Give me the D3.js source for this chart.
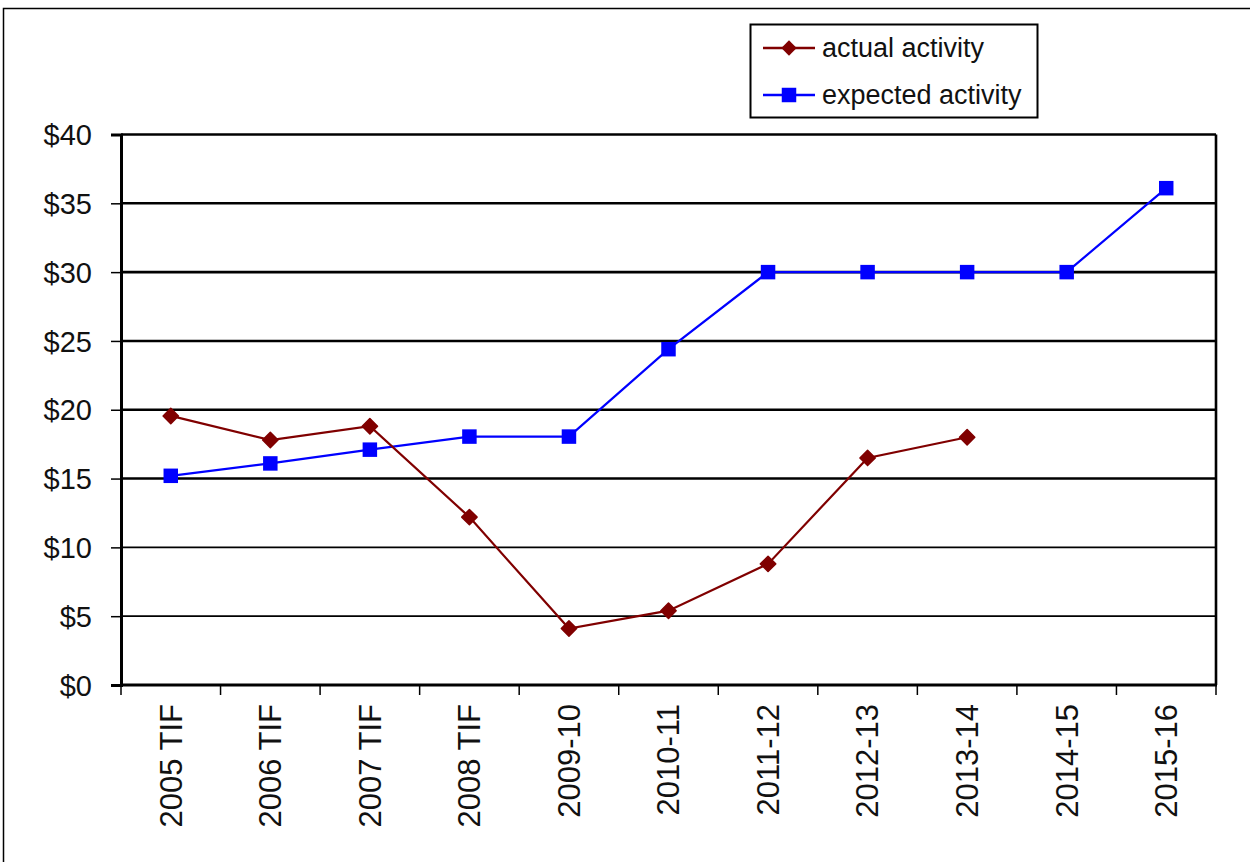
<!DOCTYPE html>
<html>
<head>
<meta charset="utf-8">
<script src="https://cdn.jsdelivr.net/npm/d3@7"></script>
<style>
  html, body { margin: 0; padding: 0; background: #fff; }
  svg { display: block; font-family: "Liberation Sans", Arial, sans-serif; }
</style>
</head>
<body>
<svg id="chart" width="1250" height="862"></svg>
<script>
// Fiscal periods on the x axis
const categories = ["2005 TIF", "2006 TIF", "2007 TIF", "2008 TIF", "2009-10", "2010-11",
                    "2011-12", "2012-13", "2013-14", "2014-15", "2015-16"];
// Dollar amounts per period (null = no figure yet)
const actualActivity   = [19.55, 17.8, 18.8, 12.2, 4.1, 5.4, 8.8, 16.5, 18.0, null, null];
const expectedActivity = [15.2, 16.1, 17.1, 18.05, 18.05, 24.4, 30, 30, 30, 30, 36.1];
const yTicks = [0, 5, 10, 15, 20, 25, 30, 35, 40];
const seriesNames = ["actual activity", "expected activity"];

const svg = d3.select("#chart");
const plot = { left: 121, right: 1216, top: 134.5, bottom: 685 };

const x = d3.scaleBand().domain(categories).range([plot.left, plot.right]);
const y = d3.scaleLinear().domain([0, 40]).range([plot.bottom, plot.top]);
const cx = d => x(d) + x.bandwidth() / 2;

// Outer chart frame
svg.append("path")
  .attr("d", "M3.5,870 V8.5 H1260")
  .attr("fill", "none").attr("stroke", "#000").attr("stroke-width", 1.5);

// Horizontal gridlines
svg.append("g")
  .selectAll("line")
  .data(yTicks.filter(t => t > 0))
  .join("line")
  .attr("x1", plot.left).attr("x2", plot.right)
  .attr("y1", d => y(d)).attr("y2", d => y(d))
  .attr("stroke", "#000")
  .attr("stroke-width", d => d >= 15 ? 2.6 : 1.8);

// Right side of plot area
svg.append("line")
  .attr("x1", plot.right).attr("x2", plot.right)
  .attr("y1", plot.top).attr("y2", plot.bottom)
  .attr("stroke", "#000").attr("stroke-width", 2.6);

// Y axis
const yAxis = svg.append("g")
  .attr("transform", `translate(${plot.left},0)`)
  .call(d3.axisLeft(y).tickValues(yTicks).tickFormat(d => "$" + d).tickSize(10).tickPadding(19));
yAxis.select(".domain").attr("stroke-width", 3);
yAxis.selectAll(".tick line").attr("stroke-width", 1.5);
yAxis.selectAll("text")
  .attr("font-size", 29).attr("fill", "#111")
  .attr("font-family", "'Liberation Sans', Arial, sans-serif")
  .attr("dy", "0.35em");

// X axis baseline
svg.append("line")
  .attr("x1", plot.left - 1).attr("x2", plot.right + 1)
  .attr("y1", plot.bottom).attr("y2", plot.bottom)
  .attr("stroke", "#000").attr("stroke-width", 3);

// X tick marks at category boundaries
const boundaries = categories.map(c => x(c)).concat([x(categories[categories.length - 1]) + x.bandwidth()]);
svg.append("g")
  .selectAll("line")
  .data(boundaries)
  .join("line")
  .attr("x1", d => d).attr("x2", d => d)
  .attr("y1", plot.bottom).attr("y2", plot.bottom + 10)
  .attr("stroke", "#000").attr("stroke-width", 1.5);

// Rotated category labels
svg.append("g")
  .selectAll("text")
  .data(categories)
  .join("text")
  .attr("transform", d => `translate(${cx(d)},${plot.bottom + 19}) rotate(-90)`)
  .attr("text-anchor", "end")
  .attr("dy", "0.35em")
  .attr("font-size", 31)
  .attr("fill", "#111")
  .text(d => d);

// Series lines
const line = d3.line()
  .defined(d => d.v != null)
  .x(d => cx(d.c))
  .y(d => y(d.v));

const toPts = arr => categories.map((c, i) => ({ c, v: arr[i] }));

const actualColor = "#800000";
const expectedColor = "#0000ff";

svg.append("path")
  .datum(toPts(expectedActivity))
  .attr("d", line)
  .attr("fill", "none").attr("stroke", expectedColor).attr("stroke-width", 2.2);

svg.append("path")
  .datum(toPts(actualActivity))
  .attr("d", line)
  .attr("fill", "none").attr("stroke", actualColor).attr("stroke-width", 2.2);

// Markers
const diamond = d3.symbol().type(d3.symbolDiamond2).size(150);
const square = d3.symbol().type(d3.symbolSquare).size(210);

svg.append("g")
  .selectAll("path")
  .data(toPts(expectedActivity).filter(d => d.v != null))
  .join("path")
  .attr("transform", d => `translate(${cx(d.c)},${y(d.v)})`)
  .attr("d", square)
  .attr("fill", expectedColor);

svg.append("g")
  .selectAll("path")
  .data(toPts(actualActivity).filter(d => d.v != null))
  .join("path")
  .attr("transform", d => `translate(${cx(d.c)},${y(d.v)})`)
  .attr("d", diamond)
  .attr("fill", actualColor)
  .attr("stroke", actualColor).attr("stroke-width", 1.5).attr("stroke-linejoin", "round");

// Legend
const legend = svg.append("g");
legend.append("rect")
  .attr("x", 750.5).attr("y", 24.5).attr("width", 287).attr("height", 93)
  .attr("fill", "#fff").attr("stroke", "#000").attr("stroke-width", 2);

const legendRows = [
  { name: seriesNames[0], color: actualColor, sym: diamond, yc: 48 },
  { name: seriesNames[1], color: expectedColor, sym: square, yc: 95 }
];
legendRows.forEach(r => {
  legend.append("line")
    .attr("x1", 763).attr("x2", 815).attr("y1", r.yc).attr("y2", r.yc)
    .attr("stroke", r.color).attr("stroke-width", 2.5);
  legend.append("path")
    .attr("transform", `translate(789,${r.yc})`)
    .attr("d", r.sym)
    .attr("fill", r.color);
  legend.append("text")
    .attr("x", 822).attr("y", r.yc).attr("dy", "0.35em")
    .attr("font-size", 27).attr("fill", "#111")
    .text(r.name);
});
</script>
</body>
</html>
